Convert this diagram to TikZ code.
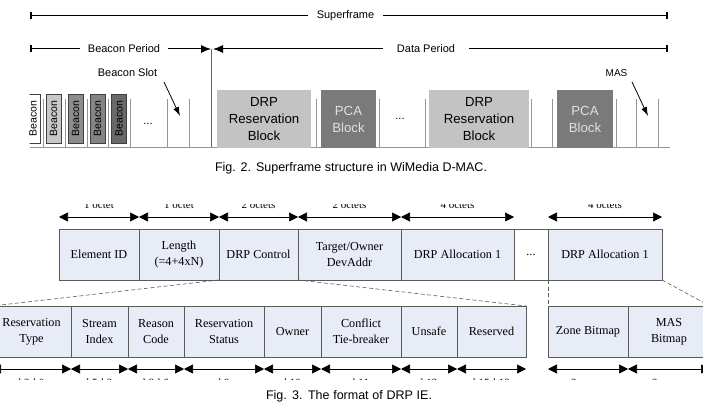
\documentclass[tikz,border=0pt]{standalone}
\usepackage{fontspec}
\setmainfont{Liberation Serif}
\newfontfamily\sansf{Liberation Sans}
\usetikzlibrary{arrows.meta}
\definecolor{drpgray}{RGB}{195,195,195}
\definecolor{pcagray}{RGB}{122,122,122}
\definecolor{bcnA}{RGB}{200,200,200}
\definecolor{bcnB}{RGB}{140,140,140}
\definecolor{bcnC}{RGB}{132,132,132}
\definecolor{bcnD}{RGB}{105,105,105}
\definecolor{fieldfill}{RGB}{232,236,246}
\definecolor{fieldline}{RGB}{90,90,90}
\definecolor{slotline}{RGB}{150,150,150}
\begin{document}
\begin{tikzpicture}[x=1pt,y=-1pt,
  blk/.style={draw=none, inner sep=0pt, outer sep=0pt, anchor=north west, align=center,
    font=\sansf\fontsize{13.2}{17}\selectfont},
  bcn/.style={draw=black!75, line width=0.7pt, inner sep=0pt, outer sep=0pt, rotate=90,
    minimum width=49pt, minimum height=15pt, font=\sansf\fontsize{10.5}{12}\selectfont},
  lbl/.style={fill=white, inner ysep=1pt, font=\sansf\fontsize{11}{13}\selectfont},
  slotln/.style={draw=slotline, line width=0.9pt},
  pointer/.style={draw=black, line width=0.8pt, -{Latex[length=9pt,width=6pt]}},
  periodln/.style={draw=black, line width=1pt},
  fld/.style={draw=fieldline, fill=fieldfill, line width=0.8pt, inner sep=0pt, outer sep=0pt,
    anchor=north west, minimum height=51pt, align=center,
    font=\fontsize{12.2}{16}\selectfont},
  dimln/.style={draw=black, line width=0.7pt, {Triangle[length=9pt,width=9pt]}-{Triangle[length=9pt,width=9pt]}},
  dashl/.style={draw=fieldline, line width=0.6pt, dash pattern=on 4pt off 2.5pt},
  cutlbl/.style={font=\fontsize{11}{13}\selectfont, anchor=base, inner sep=0pt},
  figcap/.style={font=\sansf\fontsize{12.5}{14}\selectfont, inner sep=0pt}
]
\useasboundingbox (0,0) rectangle (703,403);

% ================= Fig. 2 =================
\coordinate (sfL) at (30,16);  \coordinate (sfR) at (668,16);
\coordinate (bpL) at (30,49);  \coordinate (bpR) at (211,49);
\coordinate (dpL) at (213,49); \coordinate (dpR) at (668,49);
\draw[periodln, {Bar[width=7pt,line width=2.4pt]}-{Bar[width=7pt,line width=2.4pt]}] (sfL) -- (sfR);
\draw[periodln, {Bar[width=7pt,line width=2.4pt]}-{Latex[length=10pt,width=8pt]}] (bpL) -- (bpR);
\draw[periodln, {Latex[length=10pt,width=8pt]}-{Bar[width=7pt,line width=2.4pt]}] (dpL) -- (dpR);
\node[lbl, inner xsep=9pt] (sf) at (345.5,16) {Superframe};
\node[lbl, inner xsep=7.5pt] (bp) at (124,49) {Beacon Period};
\node[lbl, inner xsep=14pt] (dp) at (426,49) {Data Period};

\draw[draw=black!60, line width=1pt] (211,49) -- (211,148);
\draw[draw=slotline, line width=1pt] (30,148) -- (670,148);

\foreach \x in {43,65,87,108,130,167,189,316,379,425,531,552,616,636,658}
  \draw[slotln] (\x,99) -- (\x,148);

\begin{scope}
  \clip (29.5,80) rectangle (45,150);
  \node[bcn, fill=white] (b1) at (33,118.5) {Beacon};
\end{scope}
\node[bcn, fill=bcnA] (b2) at (53.5,118.5) {Beacon};
\node[bcn, fill=bcnB] (b3) at (75.5,118.5) {Beacon};
\node[bcn, fill=bcnC] (b4) at (97.5,118.5) {Beacon};
\node[bcn, fill=bcnD] (b5) at (119,118.5) {Beacon};
\node[font=\sansf\fontsize{11}{13}\selectfont] (dotsA) at (148,124) {...};

\node[blk, fill=drpgray, minimum width=94pt, minimum height=58pt] (drp1) at (217,90) {DRP\\Reservation\\Block};
\node[blk, fill=pcagray, text=white!88!black, minimum width=55pt, minimum height=58pt] (pca1) at (321,90) {PCA\\Block};
\node[font=\sansf\fontsize{11}{13}\selectfont] (dotsB) at (400,119) {...};
\node[blk, fill=drpgray, minimum width=100pt, minimum height=58pt] (drp2) at (429,90) {DRP\\Reservation\\Block};
\node[blk, fill=pcagray, text=white!88!black, minimum width=56pt, minimum height=58pt] (pca2) at (557,90) {PCA\\Block};

\node[font=\sansf\fontsize{11}{13}\selectfont] (bslot) at (127.5,73) {Beacon Slot};
\coordinate (bsA) at (164,82); \coordinate (bsB) at (180,116);
\draw[pointer] (bsA) -- (bsB);
\node[font=\sansf\fontsize{10}{12}\selectfont] (mas) at (616.5,73) {MAS};
\coordinate (msA) at (632,82); \coordinate (msB) at (648,116);
\draw[pointer] (msA) -- (msB);

\node[figcap] (cap2) at (351,168) {\makebox[272pt][s]{Fig. 2. Superframe structure in WiMedia D-MAC.}};

% ================= Fig. 3 =================
\node[fld, minimum width=80pt]  (eid)  at (59,229)  {Element ID};
\node[fld, minimum width=80pt]  (len)  at (139,229) {Length\\(=4+4xN)};
\node[fld, minimum width=79pt]  (drpc) at (219,229) {DRP Control};
\node[fld, minimum width=103pt] (tgt)  at (298,229) {Target/Owner\\DevAddr};
\node[fld, minimum width=113pt] (al1)  at (401,229) {DRP Allocation 1};
\node[fld, fill=white, minimum width=34pt] (aldots) at (514,229) {...};
\node[fld, minimum width=114pt] (aln)  at (548,229) {DRP Allocation 1};

\node[fld, minimum width=79pt] (rt)  at (-8,306)  {Reservation\\Type};
\node[fld, minimum width=57pt] (si)  at (71,306)  {Stream\\Index};
\node[fld, minimum width=56pt] (rc)  at (128,306) {Reason\\Code};
\node[fld, minimum width=80pt] (rs)  at (184,306) {Reservation\\Status};
\node[fld, minimum width=57pt] (own) at (264,306) {Owner};
\node[fld, minimum width=80pt] (ctb) at (321,306) {Conflict\\Tie-breaker};
\node[fld, minimum width=56pt] (uns) at (401,306) {Unsafe};
\node[fld, minimum width=69pt] (res) at (457,306) {Reserved};
\node[fld, minimum width=80pt] (zb)  at (548,306) {Zone Bitmap};
\node[fld, minimum width=82pt] (mb)  at (628,306) {MAS\\Bitmap};

\foreach \n in {eid,len,drpc,tgt,al1,aln}
  \draw[dimln] ([yshift=12pt]\n.north west) -- ([yshift=12pt]\n.north east);
\foreach \n in {rt,si,rc,rs,own,ctb,uns,res,zb,mb}
  \draw[dimln] ([yshift=-12pt]\n.south west) -- ([yshift=-12pt]\n.south east);

\begin{scope}
  \clip (0,205) rectangle (703,212);
  \node[cutlbl] (szA) at (99,208)  {1 octet};
  \node[cutlbl] (szB) at (179,208) {1 octet};
  \node[cutlbl] (szC) at (258.5,208) {2 octets};
  \node[cutlbl] (szD) at (349.5,208) {2 octets};
  \node[cutlbl] (szE) at (457.5,208) {4 octets};
  \node[cutlbl] (szF) at (605,208) {4 octets};
\end{scope}
\begin{scope}
  \clip (0,375) rectangle (703,379.5);
  \node[cutlbl] (bA) at (31.5,386) {b2-b0};
  \node[cutlbl] (bB) at (99.5,386) {b5-b3};
  \node[cutlbl] (bC) at (156,386) {b8-b6};
  \node[cutlbl] (bD) at (224,386) {b9};
  \node[cutlbl] (bE) at (292.5,386) {b10};
  \node[cutlbl] (bF) at (361,386) {b11};
  \node[cutlbl] (bG) at (429,386) {b12};
  \node[cutlbl] (bH) at (491.5,386) {b15-b13};
  \node[cutlbl] (bI) at (588,386) {2 octets};
  \node[cutlbl] (bJ) at (669,386) {2 octets};
\end{scope}

\draw[dashl] (drpc.south west) -- (rt.north west);
\draw[dashl] (drpc.south east) -- (res.north east);
\draw[dashl] (aln.south west) -- (zb.north west);
\draw[dashl] (aln.south east) -- (mb.north east);

\node[figcap] (cap3) at (349,396) {\makebox[166pt][s]{Fig. 3. The format of DRP IE.}};
\end{tikzpicture}
\end{document}
